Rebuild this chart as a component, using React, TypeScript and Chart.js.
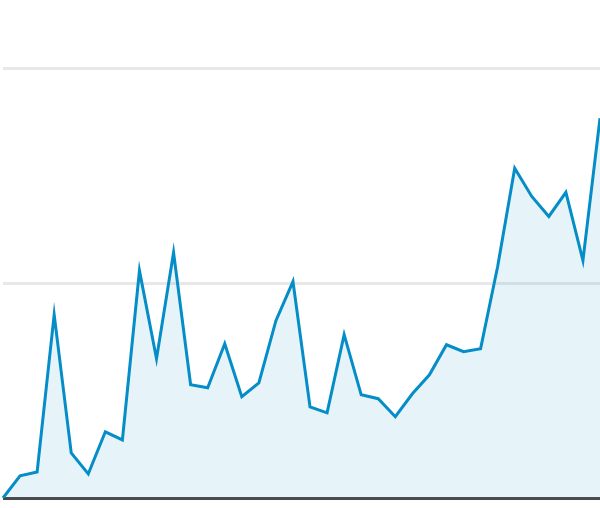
import React, { useEffect, useRef } from "react";
import { Chart, registerables } from "chart.js";

Chart.register(...registerables);

const categories: string[] = Array.from({ length: 36 }, (_, i) => `Day ${i + 1}`);
const visits: number[] = [
  0, 10.3, 12.1, 85.3, 21.0, 11.2, 30.8, 27.0, 105.8, 64.8,
  114.2, 52.7, 51.3, 71.8, 47.1, 53.6, 82.5, 100.7, 42.4, 39.6,
  76.0, 48.0, 46.2, 37.8, 48.5, 57.3, 71.3, 68.1, 69.5, 107.7,
  153.4, 140.3, 131.0, 142.2, 110.5, 176.7,
];
const yMax = 231.7;
const yStep = 100;

export default function App() {
  const ref = useRef<HTMLCanvasElement | null>(null);
  useEffect(() => {
    if (!ref.current) return;
    const chart = new Chart(ref.current, {
      type: "line",
      data: {
        labels: categories,
        datasets: [
          {
            data: visits,
            borderColor: "#058DC7",
            backgroundColor: "rgba(5,141,199,0.1)",
            borderWidth: 3,
            fill: "origin",
            pointRadius: 0,
            tension: 0,
          },
        ],
      },
      options: {
        animation: false,
        responsive: false,
        maintainAspectRatio: false,
        layout: { padding: { left: 3, right: 0, top: 0, bottom: 10 } },
        plugins: { legend: { display: false }, tooltip: { enabled: false } },
        scales: {
          x: {
            offset: false,
            grid: { display: false, drawTicks: false },
            border: { display: false },
            ticks: { display: false },
          },
          y: {
            min: 0,
            max: yMax,
            ticks: { display: false, stepSize: yStep, includeBounds: false },
            border: { display: false },
            grid: {
              drawTicks: false,
              color: (c: any) => (c.tick && c.tick.value === 0 ? "#4a4a4a" : "#e8e8e8"),
              lineWidth: (c: any) => (c.tick && c.tick.value === 0 ? 3 : 3),
            },
          },
        },
      },
    });
    return () => chart.destroy();
  }, []);
  return (
    <div style={{ position: "fixed", left: 0, top: 0, width: 600, height: 508, background: "#fff" }}>
      <canvas ref={ref} width={600} height={508} style={{ width: 600, height: 508, display: "block" }} />
    </div>
  );
}
